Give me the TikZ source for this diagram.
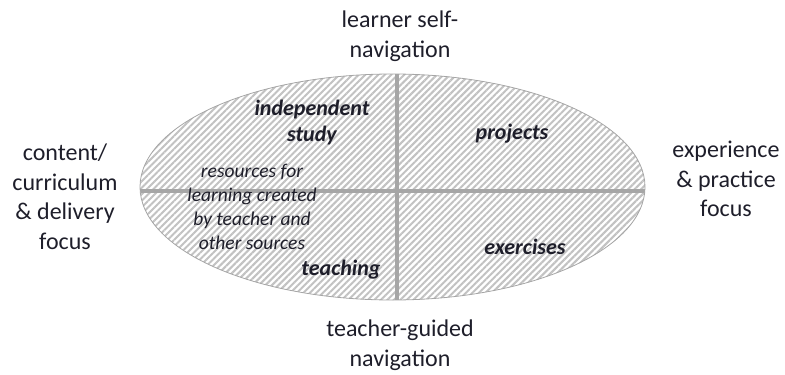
\documentclass[tikz,border=0pt]{standalone}
\usepackage{fontspec}
\setmainfont{Carlito}
\usetikzlibrary{patterns.meta}
\definecolor{ink}{HTML}{1E1E2A}
\definecolor{divider}{HTML}{A6A6A6}
\definecolor{hatch}{HTML}{C2C2C2}
\tikzset{
  axislabel/.style={text=ink, align=center, inner sep=0pt,
    font=\fontsize{24}{29.5}\selectfont},
  quadlabel/.style={text=ink, align=center, inner sep=0pt,
    font=\fontsize{22}{26}\selectfont\bfseries\itshape},
  notelabel/.style={text=ink, align=center, inner sep=0pt,
    font=\fontsize{19.5}{24}\selectfont\itshape},
  divline/.style={draw=divider, line width=4pt},
}
\begin{document}
\begin{tikzpicture}[x=1pt,y=-1pt]
  \useasboundingbox (0,0) rectangle (785,375);

  % hatched field
  \coordinate (c) at (392.5,187);
  \fill[white] (c) ellipse [x radius=252.5, y radius=113];
  \path[pattern={Lines[angle=45,distance=4.6pt,line width=2pt]},
        pattern color=hatch]
    (c) ellipse [x radius=252.5, y radius=113];

  % quadrant dividers, kept inside the ellipse
  \begin{scope}
    \clip (c) ellipse [x radius=252.5, y radius=113];
    \coordinate (top) at (397,60);
    \coordinate (bottom) at (397,310);
    \coordinate (left) at (130,191);
    \coordinate (right) at (660,191);
    \draw[divline] (top) -- (bottom);
    \draw[divline] (left) -- (right);
  \end{scope}
  \draw[draw=divider, line width=0.8pt] (c) ellipse [x radius=252.5, y radius=113];

  % axis labels
  \node[axislabel] (selfnav) at (400,36) {learner self-\\navigation};
  \node[axislabel] (guided) at (400,345) {teacher-guided\\navigation};
  \node[axislabel] (content) at (65,197) {content/\\curriculum\\\& delivery\\focus};
  \node[axislabel] (practice) at (726,179) {experience\\\& practice\\focus};

  % quadrant labels
  \node[quadlabel] (indep) at (312,123) {independent\\study};
  \node[quadlabel] (projects) at (512,134) {projects};
  \node[quadlabel] (teaching) at (341,270) {teaching};
  \node[quadlabel] (exercises) at (525,247) {exercises};
  \node[notelabel] (resources) at (252,207) {resources for\\learning created\\by teacher and\\other sources};
\end{tikzpicture}
\end{document}
